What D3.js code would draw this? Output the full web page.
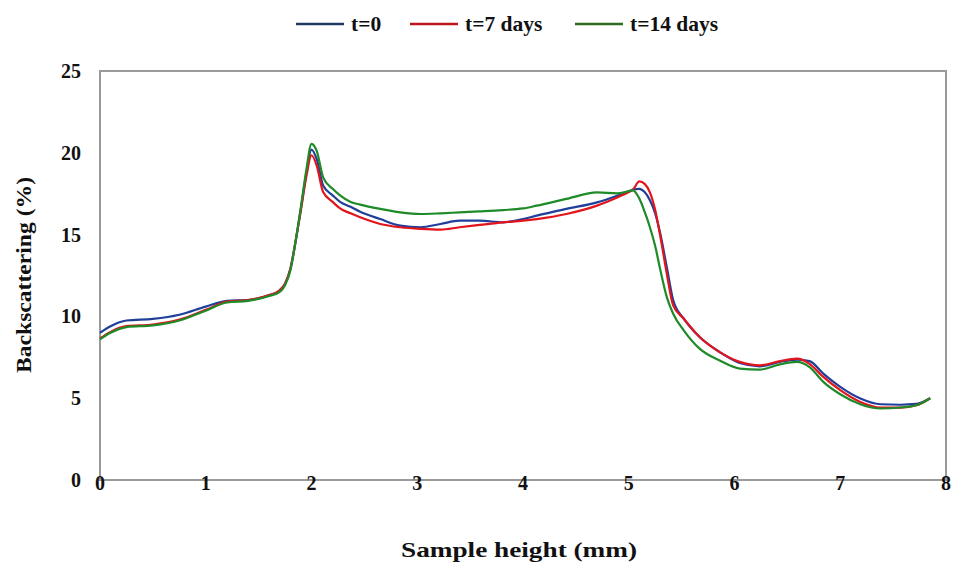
<!DOCTYPE html>
<html>
<head>
<meta charset="utf-8">
<script src="https://cdn.jsdelivr.net/npm/d3@7"></script>
<style>
  body { margin: 0; background: #fff; }
  text { font-family: "Liberation Serif", "DejaVu Serif", serif; font-weight: bold; fill: #111; }
</style>
</head>
<body>
<svg id="chart" width="955" height="565"></svg>
<script>
// sample height (mm)
var heights = [0, 0.1, 0.25, 0.5, 0.75, 1.0, 1.2, 1.4, 1.6, 1.7, 1.75, 1.8, 1.85, 1.9, 1.95, 2.0, 2.05, 2.11, 2.2, 2.27,
               2.37, 2.46, 2.65, 2.84, 3.03, 3.22, 3.4, 3.59, 3.81, 4.0, 4.13, 4.41, 4.7, 4.89, 5.0, 5.04, 5.1, 5.15, 5.2, 5.25,
               5.3, 5.36, 5.42, 5.52, 5.67, 5.86, 6.05, 6.24, 6.43, 6.59, 6.71, 6.84, 7.0, 7.19, 7.38, 7.57, 7.72, 7.85];

// backscattering (%)
var bs_t0 = [9.0, 9.4, 9.75, 9.85, 10.1, 10.6, 10.95, 11.0, 11.3, 11.6, 12.0, 12.9, 14.6, 16.6, 18.7, 20.2, 19.6, 18.0, 17.4, 17.0,
             16.7, 16.4, 15.95, 15.55, 15.45, 15.65, 15.85, 15.85, 15.75, 15.95, 16.16, 16.57, 16.97, 17.38, 17.65, 17.75, 17.8, 17.6, 17.1, 16.3,
             15.0, 13.0, 11.0, 9.86, 8.74, 7.82, 7.15, 6.95, 7.22, 7.36, 7.27, 6.5, 5.69, 4.98, 4.63, 4.6, 4.65, 5.0];
var bs_t7 = [8.65, 9.05, 9.4, 9.5, 9.8, 10.4, 10.9, 11.0, 11.3, 11.6, 12.0, 12.9, 14.6, 16.5, 18.5, 19.85, 19.2, 17.6, 17.0, 16.6,
             16.3, 16.06, 15.65, 15.45, 15.35, 15.3, 15.45, 15.59, 15.75, 15.85, 15.95, 16.26, 16.77, 17.27, 17.6, 17.75, 18.25, 18.1, 17.58, 16.5,
             14.84, 12.6, 10.67, 9.86, 8.74, 7.82, 7.22, 7.01, 7.27, 7.42, 7.1, 6.3, 5.49, 4.77, 4.43, 4.43, 4.57, 5.0];
var bs_t14 = [8.6, 9.0, 9.35, 9.45, 9.75, 10.35, 10.85, 10.95, 11.25, 11.5, 11.9, 12.8, 14.6, 16.7, 18.9, 20.55, 20.1, 18.5, 17.8, 17.4,
              17.0, 16.83, 16.57, 16.36, 16.26, 16.3, 16.36, 16.42, 16.5, 16.6, 16.77, 17.18, 17.58, 17.52, 17.65, 17.7, 17.2, 16.4, 15.45, 14.3,
              12.8, 11.18, 10.16, 9.15, 8.03, 7.3, 6.81, 6.75, 7.07, 7.22, 6.9, 6.0, 5.24, 4.63, 4.37, 4.43, 4.57, 5.0];

var series_names = ["t=0", "t=7 days", "t=14 days"];
var series_colors = ["#1f3f9a", "#e2141c", "#1f8a28"];
var legend_colors = ["#1f3864", "#c0141c", "#2e6b1e"];

var x_ticks = [0, 1, 2, 3, 4, 5, 6, 7, 8];
var y_ticks = [0, 5, 10, 15, 20, 25];

var svg = d3.select("#chart");
var margin = {left: 100, right: 9, top: 71, bottom: 85};
var width  = +svg.attr("width")  - margin.left - margin.right,
    height = +svg.attr("height") - margin.top  - margin.bottom;

var xScale = d3.scaleLinear().domain([0, 8]).range([margin.left, margin.left + width]);
var yScale = d3.scaleLinear().domain([0, 25]).range([margin.top + height, margin.top]);

function add_text(x, y, str, size, anchor, rot, len){
    var t = svg.append("text")
        .attr("transform", "translate(" + x + "," + y + ")" + (rot ? " rotate(" + rot + ")" : ""))
        .attr("text-anchor", anchor)
        .style("font-size", size + "px")
        .text(str);
    if( len ){
        t.attr("textLength", len).attr("lengthAdjust", "spacingAndGlyphs");
    }
    return t;
}

// frame
svg.append("rect")
    .attr("x", margin.left)
    .attr("y", margin.top)
    .attr("width", width)
    .attr("height", height)
    .attr("fill", "none")
    .attr("stroke", "#9a9a9a")
    .attr("stroke-width", 2);

// tick labels
y_ticks.forEach(function(v){
    add_text(81, yScale(v) + 7, v, 20, "end");
});
x_ticks.forEach(function(v){
    add_text(xScale(v), 490, v, 20, "middle");
});

// axis titles
add_text(519, 557, "Sample height (mm)", 22, "middle", 0, 236);
add_text(31, 275, "Backscattering (%)", 21, "middle", -90, 196);

// lines
var all_series = [bs_t0, bs_t7, bs_t14];
var line = d3.line()
    .x(function(d){ return xScale(d[0]); })
    .y(function(d){ return yScale(d[1]); })
    .curve(d3.curveMonotoneX);

all_series.forEach(function(vals, i){
    svg.append("path")
        .datum(d3.zip(heights, vals))
        .attr("fill", "none")
        .attr("stroke", series_colors[i])
        .attr("stroke-width", 2.2)
        .attr("stroke-linejoin", "round")
        .attr("d", line);
});

// legend
var legend_x = [296, 410, 575];
series_names.forEach(function(name, i){
    svg.append("line")
        .attr("x1", legend_x[i]).attr("x2", legend_x[i] + 48)
        .attr("y1", 24).attr("y2", 24)
        .attr("stroke", legend_colors[i])
        .attr("stroke-width", 2.5);
    add_text(legend_x[i] + 55, 31, name, 21.5, "start");
});
</script>
</body>
</html>
